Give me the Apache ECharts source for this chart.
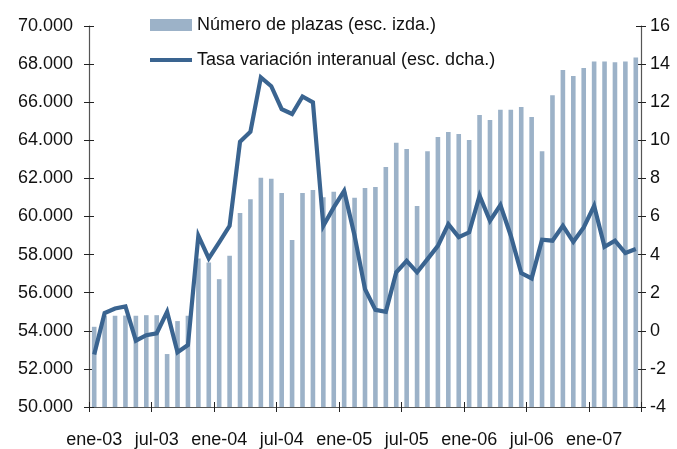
<!DOCTYPE html>
<html>
<head>
<meta charset="utf-8">
<script src="https://cdn.jsdelivr.net/npm/echarts@6/dist/echarts.min.js"></script>
<style>
  html, body { margin: 0; padding: 0; background: #fff; }
  #chart { width: 677px; height: 449px; }
</style>
</head>
<body>
<div id="chart"></div>
<script>
// meses ene-03 .. may-07
const categories = [
  "ene-03", "feb-03", "mar-03", "abr-03", "may-03", "jun-03", "jul-03", "ago-03", "sep-03", "oct-03", "nov-03", "dic-03",
  "ene-04", "feb-04", "mar-04", "abr-04", "may-04", "jun-04", "jul-04", "ago-04", "sep-04", "oct-04", "nov-04", "dic-04",
  "ene-05", "feb-05", "mar-05", "abr-05", "may-05", "jun-05", "jul-05", "ago-05", "sep-05", "oct-05", "nov-05", "dic-05",
  "ene-06", "feb-06", "mar-06", "abr-06", "may-06", "jun-06", "jul-06", "ago-06", "sep-06", "oct-06", "nov-06", "dic-06",
  "ene-07", "feb-07", "mar-07", "abr-07", "may-07"
];

// Número de plazas (esc. izda.)
const plazas = [
  54210, 54800, 54790, 54800, 54790, 54820, 54820, 52780, 54510, 54790, 57800, 57590,
  56710, 57940, 60180, 60910, 62030, 61980, 61230, 58760, 61230, 61390, 61010, 61300,
  61300, 60990, 61500, 61550, 62600, 63870, 63540, 60550, 63430, 64170, 64430, 64330,
  64010, 65330, 65070, 65610, 65610, 65750, 65220, 63430, 66370, 67690, 67370, 67790,
  68140, 68140, 68100, 68140, 68350
];

// Tasa variación interanual (esc. dcha.)
const tasa = [
  -1.25, 0.93, 1.17, 1.28, -0.52, -0.23, -0.13, 1.0, -1.13, -0.75, 4.99, 3.8,
  4.64, 5.51, 9.92, 10.45, 13.3, 12.84, 11.64, 11.38, 12.3, 11.99, 5.51, 6.48,
  7.35, 4.99, 2.19, 1.1, 1.0, 3.07, 3.67, 3.07, 3.76, 4.46, 5.6, 4.92,
  5.17, 7.09, 5.77, 6.6, 4.99, 3.03, 2.75, 4.78, 4.73, 5.51, 4.67, 5.43,
  6.56, 4.41, 4.73, 4.08, 4.29
];

const barName = "Número de plazas (esc. izda.)";
const lineName = "Tasa variación interanual (esc. dcha.)";
const font = "Liberation Sans, Arial, Helvetica, sans-serif";
const axisColor = "#555";

function miles(v) {
  // 70000 -> 70.000
  return String(v).replace(/\B(?=(\d{3})+(?!\d))/g, ".");
}

const chart = echarts.init(document.getElementById("chart"), null, { renderer: "canvas" });

const xBase = {
  type: "category",
  data: categories,
  boundaryGap: true,
  position: "bottom"
};
const leftBase = { type: "value", position: "left", min: 50000, max: 70000, interval: 2000 };
const rightBase = { type: "value", position: "right", min: -4, max: 16, interval: 2 };

chart.setOption({
  animation: false,
  textStyle: { fontFamily: font },
  grid: { left: 89, right: 36, top: 26, bottom: 41, containLabel: false },
  legend: [
    {
      data: [barName],
      left: 145, top: 11,
      icon: "rect", itemWidth: 42, itemHeight: 12,
      textStyle: { fontSize: 18, color: "#111", fontFamily: font }
    },
    {
      data: [lineName],
      left: 145, top: 46,
      icon: "rect", itemWidth: 42, itemHeight: 4,
      textStyle: { fontSize: 18, color: "#111", fontFamily: font }
    }
  ],
  xAxis: [
    Object.assign({}, xBase, {
      axisLine: { onZero: false, lineStyle: { color: axisColor, width: 1.2 } },
      axisTick: { show: true, interval: 5, alignWithLabel: false, length: 5, lineStyle: { color: "#222" } },
      axisLabel: { interval: 5, margin: 24, fontSize: 18, color: "#111", fontFamily: font },
      splitLine: { show: false }
    }),
    // marcas hacia dentro
    Object.assign({}, xBase, {
      axisLine: { show: false, onZero: false },
      axisTick: { show: true, inside: true, interval: 5, alignWithLabel: false, length: 5, lineStyle: { color: "#222" } },
      axisLabel: { show: false },
      splitLine: { show: false }
    })
  ],
  yAxis: [
    Object.assign({}, leftBase, {
      axisLine: { show: true, onZero: false, lineStyle: { color: axisColor, width: 1.2 } },
      axisTick: { show: true, length: 5, lineStyle: { color: "#222" } },
      axisLabel: { margin: 16, fontSize: 18, color: "#111", fontFamily: font, formatter: miles },
      splitLine: { show: false }
    }),
    Object.assign({}, rightBase, {
      axisLine: { show: true, onZero: false, lineStyle: { color: axisColor, width: 1.2 } },
      axisTick: { show: true, length: 5, lineStyle: { color: "#222" } },
      axisLabel: { margin: 9, fontSize: 18, color: "#111", fontFamily: font },
      splitLine: { show: false }
    }),
    Object.assign({}, leftBase, {
      axisLine: { show: false, onZero: false },
      axisTick: { show: true, inside: true, length: 5, lineStyle: { color: "#222" } },
      axisLabel: { show: false },
      splitLine: { show: false }
    }),
    Object.assign({}, rightBase, {
      axisLine: { show: false, onZero: false },
      axisTick: { show: true, inside: true, length: 5, lineStyle: { color: "#222" } },
      axisLabel: { show: false },
      splitLine: { show: false }
    })
  ],
  series: [
    {
      name: barName,
      type: "bar",
      xAxisIndex: 0,
      yAxisIndex: 0,
      data: plazas,
      barWidth: 4.6,
      itemStyle: { color: "#9cb2c8" }
    },
    {
      name: lineName,
      type: "line",
      xAxisIndex: 0,
      yAxisIndex: 1,
      data: tasa,
      showSymbol: false,
      symbol: "none",
      lineStyle: { color: "#3a6490", width: 4.2, join: "miter" },
      itemStyle: { color: "#3a6490" },
      z: 3
    }
  ]
});
</script>
</body>
</html>
